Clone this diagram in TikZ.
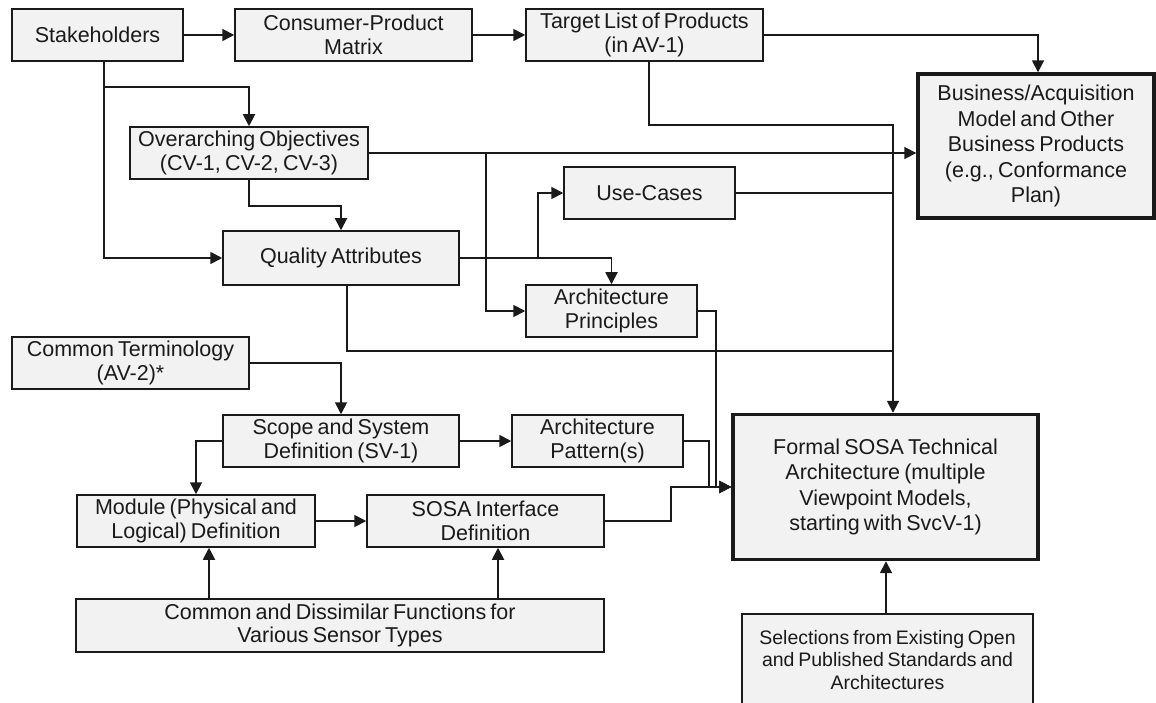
\documentclass[tikz,border=0pt]{standalone}
\usepackage{fontspec}
\setmainfont{Liberation Sans}[WordSpace=0.7]
\usetikzlibrary{arrows.meta}
\definecolor{boxfill}{HTML}{F2F2F2}
\definecolor{ink}{HTML}{1A1A1A}
\begin{document}
\begin{tikzpicture}[x=1pt,y=-1pt,
  box/.style={draw=ink, fill=boxfill, line width=1.5pt, rectangle, inner sep=0pt,
    align=center, text=ink, font=\fontsize{21.5}{23.5}\selectfont},
  heavybox/.style={box, line width=3.4pt, font=\fontsize{21.5}{25.5}\selectfont},
  link/.style={draw=ink, line width=1.8pt},
  arr/.style={link, -{Triangle[length=12pt,width=12pt]}}]
\useasboundingbox (0,0) rectangle (1156,703);
\clip (0,0) rectangle (1156,703);

% boxes
\node[box, minimum width=171pt, minimum height=52pt] (stake) at (97.5,35) {Stakeholders};
\node[box, minimum width=237pt, minimum height=52pt] (cpm) at (353.5,35) {Consumer-Product\\Matrix};
\node[box, minimum width=237pt, minimum height=52pt] (tlp) at (644.5,35) {Target List of Products\\(in AV-1)};
\node[heavybox, minimum width=236pt, minimum height=144pt] (bam) at (1036,146)
  {Business/Acquisition\\Model and Other\\Business Products\\(e.g., Conformance\\Plan)};
\node[box, minimum width=238pt, minimum height=52pt] (obj) at (249,153) {Overarching Objectives\\(CV-1, CV-2, CV-3)};
\node[box, minimum width=236pt, minimum height=54pt] (qa) at (341,258) {Quality Attributes};
\node[box, minimum width=171pt, minimum height=52pt] (uc) at (649.5,193) {Use-Cases};
\node[box, minimum width=171pt, minimum height=52pt] (ap) at (611.5,311) {Architecture\\Principles};
\node[box, minimum width=237pt, minimum height=52pt] (ct) at (130.5,363) {Common Terminology\\(AV-2)*};
\node[box, minimum width=236pt, minimum height=52pt] (ssd) at (341,441) {Scope and System\\Definition (SV-1)};
\node[box, minimum width=171pt, minimum height=52pt] (apat) at (597.5,441) {Architecture\\Pattern(s)};
\node[box, minimum width=238pt, minimum height=52pt] (mod) at (196,521) {Module (Physical and\\Logical) Definition};
\node[box, minimum width=237pt, minimum height=52pt] (sid) at (485.5,521) {SOSA Interface\\Definition};
\node[box, minimum width=528pt, minimum height=53pt] (cdf) at (340,625.5) {Common and Dissimilar Functions for\\Various Sensor Types};
\node[heavybox, minimum width=305pt, minimum height=145pt] (formal) at (885.5,487)
  {Formal SOSA Technical\\Architecture (multiple\\Viewpoint Models,\\starting with SvcV-1)};
\node[box, minimum width=291pt, minimum height=130pt, anchor=north] (sel) at (887.5,613) {};
\node[align=center, text=ink, font=\fontsize{19.5}{22.5}\selectfont, anchor=north, inner sep=0pt]
  (seltext) at ([yshift=-17pt]sel.north) {Selections from Existing Open\\and Published Standards and\\Architectures};

% junction points on the shared runs
\coordinate (j1) at (104,87);
\coordinate (j2) at (486,153);
\coordinate (j4) at (538,258);
\coordinate (fin) at ([xshift=7.5pt]formal.north);
\coordinate (bus) at (893,125);
\coordinate (j3) at (893,351);

% top row
\draw[arr] (stake.east) -- (cpm.west);
\draw[arr] (cpm.east) -- (tlp.west);
\draw[arr] (tlp.east) -| ([xshift=2pt]bam.north);

% from stakeholders
\draw[arr] ([xshift=6.5pt]stake.south) |- (qa.west);
\draw[arr] (j1) -| (obj.north);

% from overarching objectives
\draw[arr] (obj.south) -- ++(0,26) -| (qa.north);
\draw[arr] (obj.east) -- (obj.east -| bam.west);
\draw[arr] (j2) |- (ap.west);

% from quality attributes
\draw[arr] (qa.east) -| (ap.north);
\draw[arr] (j4) |- (uc.west);
\draw[link] ([xshift=6pt]qa.south) |- (j3);

% into the formal architecture from above
\draw[arr] ([xshift=4.5pt]tlp.south) |- (bus) -- (fin);
\draw[link] (uc.east) -- (uc.east -| fin);

% into the formal architecture from the left
\draw[arr] (ap.east) -| (716,487) -- (formal.west);
\draw[arr] (apat.east) -| (709,487) -- (formal.west);
\draw[arr] (sid.east) -- ++(66,0) |- (formal.west);

% definition chain
\draw[arr] (ct.east) -| (ssd.north);
\draw[arr] (ssd.west) -| (mod.north);
\draw[arr] (ssd.east) -- (apat.west);
\draw[arr] (mod.east) -- (sid.west);
\draw[arr] (cdf.north -| 209,0) -- (mod.south -| 209,0);
\draw[arr] (cdf.north -| 498,0) -- (sid.south -| 498,0);

% standards
\draw[arr] (sel.north -| 886,0) -- (formal.south -| 886,0);
\end{tikzpicture}
\end{document}
